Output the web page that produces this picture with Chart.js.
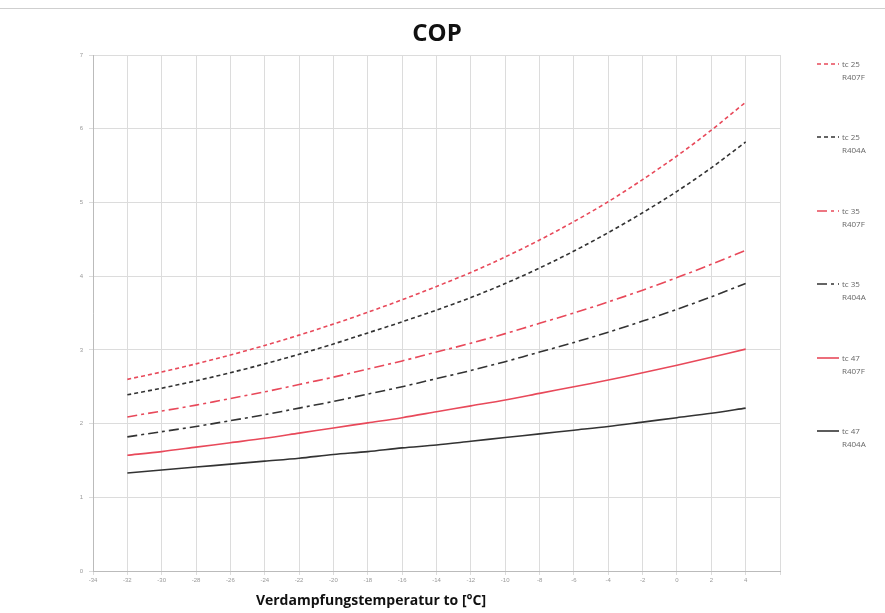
<!DOCTYPE html>
<html>
<head>
<meta charset="utf-8">
<script src="https://cdn.jsdelivr.net/npm/chart.js@4.4.1/dist/chart.umd.min.js"></script>
<style>
  html, body { margin: 0; padding: 0; background: #fff; }
  #wrap { position: relative; width: 885px; height: 613px; overflow: hidden; }
  #wrap:before { content: ''; position: absolute; left: 0; right: 0; top: 8px; border-top: 1px solid #cfcfcf; }
  #legend { position: absolute; left: 817px; top: 0; width: 68px; font-family: 'Open Sans', sans-serif; font-size: 8px; color: #666; }
  .item { position: absolute; left: 0; display: flex; align-items: flex-start; }
  .item svg { margin-top: 5px; margin-right: 3px; }
  .item span { line-height: 13px; }
</style>
</head>
<body>
<div id="wrap">
  <canvas id="copChart" width="885" height="613"></canvas>
  <div id="legend"></div>
</div>
<script>
// Verdampfungstemperatur (°C)
const temps = [-32, -30, -28, -26, -24, -22, -20, -18, -16, -14, -12, -10, -8, -6, -4, -2, 0, 2, 4];

// COP values
const tc25_R407F = [2.60, 2.70, 2.81, 2.93, 3.06, 3.20, 3.35, 3.51, 3.68, 3.86, 4.05, 4.26, 4.49, 4.74, 5.01, 5.31, 5.63, 5.98, 6.36];
const tc25_R404A = [2.39, 2.48, 2.58, 2.69, 2.81, 2.94, 3.08, 3.23, 3.38, 3.54, 3.71, 3.90, 4.11, 4.34, 4.59, 4.86, 5.15, 5.47, 5.82];
const tc35_R407F = [2.09, 2.17, 2.25, 2.34, 2.43, 2.53, 2.63, 2.74, 2.85, 2.97, 3.09, 3.22, 3.36, 3.50, 3.65, 3.81, 3.98, 4.16, 4.35];
const tc35_R404A = [1.82, 1.89, 1.96, 2.04, 2.12, 2.21, 2.30, 2.40, 2.50, 2.61, 2.72, 2.84, 2.97, 3.10, 3.24, 3.39, 3.55, 3.72, 3.90];
const tc47_R407F = [1.57, 1.62, 1.68, 1.74, 1.80, 1.87, 1.94, 2.01, 2.08, 2.16, 2.24, 2.32, 2.41, 2.50, 2.59, 2.69, 2.79, 2.90, 3.01];
const tc47_R404A = [1.33, 1.37, 1.41, 1.45, 1.49, 1.53, 1.58, 1.62, 1.67, 1.71, 1.76, 1.81, 1.86, 1.91, 1.96, 2.02, 2.08, 2.14, 2.21];

const seriesNames = [['tc 25', 'R407F'], ['tc 25', 'R404A'], ['tc 35', 'R407F'], ['tc 35', 'R404A'], ['tc 47', 'R407F'], ['tc 47', 'R404A']];
const xTicks = [-34, -32, -30, -28, -26, -24, -22, -20, -18, -16, -14, -12, -10, -8, -6, -4, -2, 0, 2, 4];
const yTicks = [0, 1, 2, 3, 4, 5, 6, 7];

const RED = '#e8495a';
const BLACK = '#333333';
const styles = [
  { color: RED, dash: [4, 3] },
  { color: BLACK, dash: [4, 3] },
  { color: RED, dash: [10, 4, 3, 4] },
  { color: BLACK, dash: [10, 4, 3, 4] },
  { color: RED, dash: [] },
  { color: BLACK, dash: [] }
];
const allValues = [tc25_R407F, tc25_R404A, tc35_R407F, tc35_R404A, tc47_R407F, tc47_R404A];

const datasets = allValues.map((vals, i) => ({
  label: seriesNames[i].join(' '),
  data: temps.map((t, j) => ({ x: t, y: vals[j] })),
  borderColor: styles[i].color,
  borderDash: styles[i].dash,
  borderWidth: 1.6,
  pointRadius: 0,
  tension: 0.3,
  fill: false
}));

// Titel und Achsentitel
const titlesPlugin = {
  id: 'titles',
  afterDraw(chart) {
    const ctx = chart.ctx;
    ctx.save();
    ctx.fillStyle = '#111';
    ctx.textAlign = 'center';
    ctx.textBaseline = 'middle';
    ctx.font = "bold 24px 'Open Sans', sans-serif";
    ctx.fillText('COP', 437, 34);
    ctx.font = "bold 14px 'Open Sans', sans-serif";
    ctx.fillText('Verdampfungstemperatur to [°C]', 371, 601);
    ctx.restore();
  }
};

new Chart(document.getElementById('copChart'), {
  type: 'line',
  data: { datasets: datasets },
  options: {
    responsive: false,
    animation: false,
    layout: { padding: { top: 55, right: 105, left: 0, bottom: 0 } },
    plugins: { legend: { display: false }, tooltip: { enabled: false } },
    scales: {
      x: {
        type: 'linear',
        min: -34,
        max: 6,
        afterBuildTicks: (s) => { s.ticks = xTicks.concat([6]).map(v => ({ value: v })); },
        afterFit: (s) => { s.height = 42; },
        ticks: {
          color: '#999',
          font: { size: 6 },
          padding: 2,
          maxRotation: 0,
          autoSkip: false,
          callback: (v) => (v === 6 ? '' : v)
        },
        grid: { color: '#dcdcdc', tickLength: 4 },
        border: { color: '#bbb' }
      },
      y: {
        min: 0,
        max: 7,
        afterBuildTicks: (s) => { s.ticks = yTicks.map(v => ({ value: v })); },
        afterFit: (s) => { s.width = 93; },
        ticks: { color: '#999', font: { size: 6 }, padding: 6 },
        grid: { color: '#dcdcdc', tickLength: 4 },
        border: { color: '#bbb' }
      }
    }
  },
  plugins: [titlesPlugin]
});

// Legende rechts
const legend = document.getElementById('legend');
const legendTops = [57, 130, 204, 277, 351, 424];
seriesNames.forEach((name, i) => {
  const item = document.createElement('div');
  item.className = 'item';
  item.style.top = legendTops[i] + 'px';
  const dash = styles[i].dash.length ? styles[i].dash.join(' ') : 'none';
  item.innerHTML = '<svg width="22" height="4"><line x1="0" y1="2" x2="22" y2="2" stroke="' + styles[i].color +
    '" stroke-width="1.6" stroke-dasharray="' + dash + '"/></svg><span>' + name[0] + '<br>' + name[1] + '</span>';
  legend.appendChild(item);
});
</script>
</body>
</html>
